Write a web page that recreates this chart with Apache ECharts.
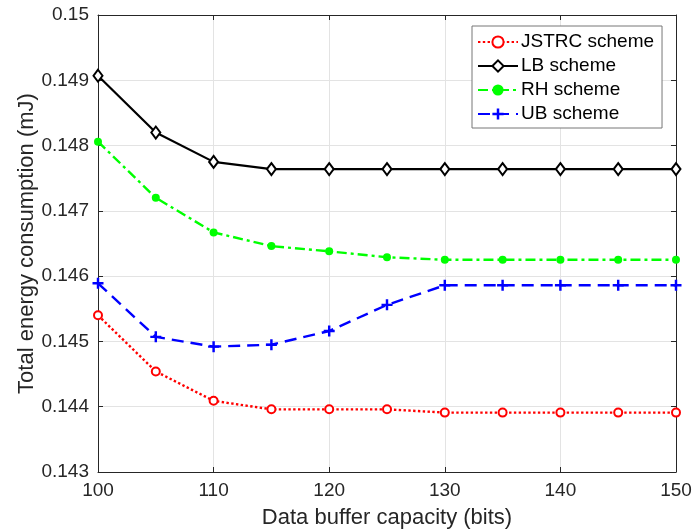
<!DOCTYPE html>
<html>
<head>
<meta charset="utf-8">
<script src="https://cdn.jsdelivr.net/npm/echarts@6/dist/echarts.min.js"></script>
<style>
  html, body { margin: 0; padding: 0; background: #fff; }
  #chart { width: 694px; height: 531px; }
</style>
</head>
<body>
<div id="chart"></div>
<script>
// data buffer capacity (bits)
var bufferCapacity = [100, 105, 110, 115, 120, 125, 130, 135, 140, 145, 150]
// total energy consumption (mJ)
var jstrcValues = [0.14540, 0.14454, 0.14409, 0.14396, 0.14396, 0.14396, 0.14391, 0.14391, 0.14391, 0.14391, 0.14391]
var lbValues = [0.14907, 0.14820, 0.14775, 0.14764, 0.14764, 0.14764, 0.14764, 0.14764, 0.14764, 0.14764, 0.14764]
var rhValues = [0.14806, 0.14720, 0.14667, 0.14646, 0.14638, 0.14629, 0.14625, 0.14625, 0.14625, 0.14625, 0.14625]
var ubValues = [0.14589, 0.14507, 0.14492, 0.14495, 0.14516, 0.14556, 0.14586, 0.14586, 0.14586, 0.14586, 0.14586]

var font = '"Liberation Sans", Arial, Helvetica, sans-serif'
var axisColor = '#262626'
var plusSymbol = 'path://M3.5,0H5.5V3.5H9V5.5H5.5V9H3.5V5.5H0V3.5H3.5Z'

function pairs(values) {
  return bufferCapacity.map(function (x, i) { return [x, values[i]] })
}

function boxAxis(extra) {
  return Object.assign({
    type: 'value',
    axisLine: { show: true, lineStyle: { color: axisColor, width: 1 } },
    axisTick: { show: true, inside: true, length: 5, lineStyle: { color: axisColor } },
    axisLabel: { show: false },
    splitLine: { show: false }
  }, extra)
}

var chart = echarts.init(document.getElementById('chart'))
chart.setOption({
  backgroundColor: '#fff',
  animation: false,
  textStyle: { fontFamily: font },
  grid: { left: 98, right: 18, top: 15, bottom: 59, outerBoundsMode: 'none', containLabel: false },
  legend: {
    orient: 'vertical',
    left: 472,
    top: 26,
    padding: [6, 8, 4, 5],
    itemWidth: 40,
    itemHeight: 14,
    itemGap: 4,
    backgroundColor: '#fff',
    borderColor: '#777',
    borderWidth: 1,
    textStyle: { fontFamily: font, fontSize: 19, color: '#000', lineHeight: 20, padding: [0, 0, 0, -2] },
    data: ['JSTRC scheme', 'LB scheme', 'RH scheme', 'UB scheme']
  },
  xAxis: [{
    type: 'value',
    min: 100,
    max: 150,
    interval: 10,
    name: 'Data buffer capacity (bits)',
    nameLocation: 'middle',
    nameGap: 35,
    nameMoveOverlap: false,
    nameTextStyle: { fontFamily: font, fontSize: 22, color: axisColor },
    axisLine: { show: true, onZero: false, lineStyle: { color: axisColor, width: 1 } },
    axisTick: { show: true, inside: true, length: 5, lineStyle: { color: axisColor } },
    axisLabel: { fontFamily: font, fontSize: 19, color: axisColor, margin: 9 },
    splitLine: { show: true, lineStyle: { color: '#e3e3e3', width: 1 } }
  }, boxAxis({ position: 'top', min: 100, max: 150, interval: 10 })],
  yAxis: [{
    type: 'value',
    min: 0.143,
    max: 0.15,
    interval: 0.001,
    name: 'Total energy consumption (mJ)',
    nameLocation: 'middle',
    nameGap: 60,
    nameMoveOverlap: false,
    nameTextStyle: { fontFamily: font, fontSize: 22, color: axisColor },
    axisLine: { show: true, onZero: false, lineStyle: { color: axisColor, width: 1 } },
    axisTick: { show: true, inside: true, length: 5, lineStyle: { color: axisColor } },
    axisLabel: {
      fontFamily: font, fontSize: 19, color: axisColor, margin: 9,
      formatter: function (v) { return String(+v.toFixed(3)) }
    },
    splitLine: { show: true, lineStyle: { color: '#e3e3e3', width: 1 } }
  }, boxAxis({ position: 'right', min: 0.143, max: 0.15, interval: 0.001 })],
  series: [{
    name: 'UB scheme',
    type: 'line',
    data: pairs(ubValues),
    symbol: plusSymbol,
    symbolSize: 11,
    showAllSymbol: true,
    itemStyle: { color: '#0000ff' },
    lineStyle: { color: '#0000ff', width: 2.4, type: [12, 7] }
  }, {
    name: 'RH scheme',
    type: 'line',
    data: pairs(rhValues),
    symbol: 'circle',
    symbolSize: 8,
    showAllSymbol: true,
    itemStyle: { color: '#00ff00' },
    lineStyle: { color: '#00ff00', width: 2.4, type: [10, 4, 3, 4] }
  }, {
    name: 'LB scheme',
    type: 'line',
    data: pairs(lbValues),
    symbol: 'emptyDiamond',
    symbolSize: [9, 12],
    showAllSymbol: true,
    itemStyle: { color: '#000', borderWidth: 2.2 },
    lineStyle: { color: '#000', width: 2.2 }
  }, {
    name: 'JSTRC scheme',
    type: 'line',
    data: pairs(jstrcValues),
    symbol: 'emptyCircle',
    symbolSize: 8,
    showAllSymbol: true,
    itemStyle: { color: '#ff0000', borderWidth: 2.4 },
    lineStyle: { color: '#ff0000', width: 2.4, type: [2.4, 2.4] }
  }]
})
</script>
</body>
</html>
